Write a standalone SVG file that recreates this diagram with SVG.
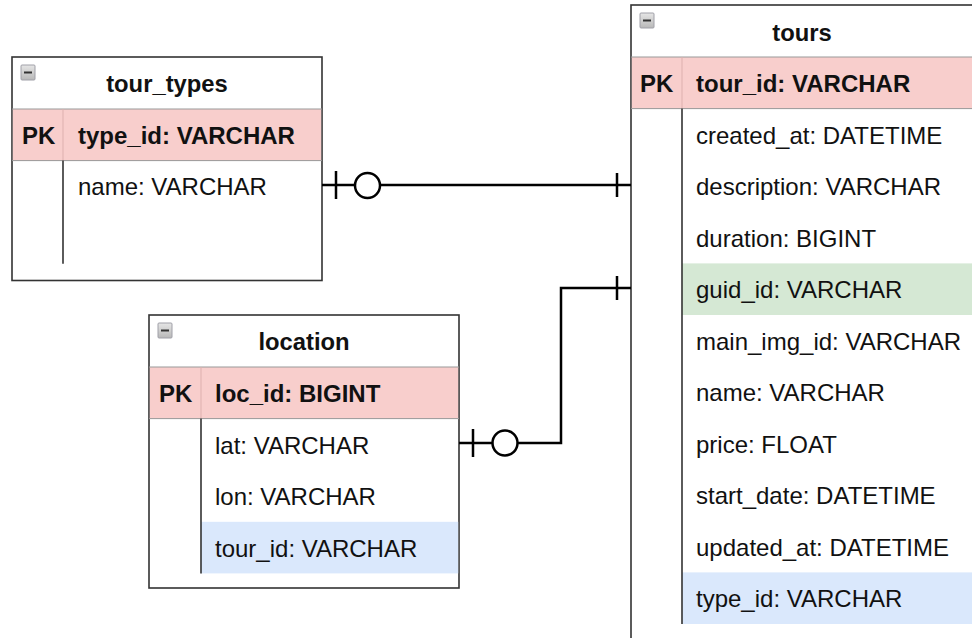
<svg xmlns="http://www.w3.org/2000/svg" width="972" height="638" viewBox="0 0 972 638">
<defs>
<linearGradient id="ig" x1="0" y1="0" x2="0" y2="1"><stop offset="0" stop-color="#e6e6e6"/><stop offset="1" stop-color="#b8b8b8"/></linearGradient>
<g id="icon"><rect x="0" y="0" width="14" height="15" rx="1" fill="url(#ig)" stroke="#a0a0a8" stroke-width="1"/><line x1="3" y1="7.5" x2="11" y2="7.5" stroke="#333" stroke-width="2"/></g>
</defs>
<style>
.box{fill:#fff;stroke:#333;stroke-width:1.6}
.pk{fill:#f8cecc}
.fk{fill:#dae8fc}
.uq{fill:#d5e8d4}
.sep{stroke:#999;stroke-width:1}
.pkdiv{stroke:#ddb0ae;stroke-width:1}
.div{stroke:#333;stroke-width:1.6}
text{font-family:"Liberation Sans",Arial,sans-serif;font-size:24px;fill:#111}
.t{font-weight:bold;text-anchor:middle;font-size:23.8px}
.b{font-weight:bold}
.c{fill:none;stroke:#000;stroke-width:2.5}
.o{fill:#fff;stroke:#000;stroke-width:2.5}
</style>
<g id="tour_types">
<rect class="box" x="12" y="57" width="310" height="223.5"/>
<rect class="pk" x="12.8" y="109" width="308.4" height="51.6"/>
<line class="sep" x1="12" y1="109" x2="322" y2="109"/>
<line class="sep" x1="12" y1="160.6" x2="322" y2="160.6"/>
<line class="pkdiv" x1="63" y1="109" x2="63" y2="160.6"/>
<line class="div" x1="63" y1="160.6" x2="63" y2="263.8"/>
<use href="#icon" x="21" y="65"/>
<text class="t" x="167" y="92">tour_types</text>
<text class="b" x="22" y="144">PK</text>
<text class="b" x="78" y="144">type_id: VARCHAR</text>
<text x="78" y="195">name: VARCHAR</text>
</g>
<g id="location">
<rect class="box" x="149" y="315" width="310" height="273"/>
<rect class="pk" x="149.8" y="367" width="308.4" height="51.6"/>
<rect class="fk" x="201" y="521.8" width="257.2" height="51.6"/>
<line class="sep" x1="149" y1="367" x2="459" y2="367"/>
<line class="sep" x1="149" y1="418.6" x2="459" y2="418.6"/>
<line class="pkdiv" x1="201" y1="367" x2="201" y2="418.6"/>
<line class="div" x1="201" y1="418.6" x2="201" y2="573.4"/>
<use href="#icon" x="158" y="323"/>
<text class="t" x="304" y="350">location</text>
<text class="b" x="159" y="402">PK</text>
<text class="b" x="215" y="402">loc_id: BIGINT</text>
<text x="215" y="453.5">lat: VARCHAR</text>
<text x="215" y="505">lon: VARCHAR</text>
<text x="215" y="556.5">tour_id: VARCHAR</text>
</g>
<g id="tours">
<rect class="box" x="631" y="5" width="342" height="640"/>
<rect class="pk" x="631.8" y="57" width="341" height="51.6"/>
<rect class="uq" x="682" y="263.4" width="291" height="51.6"/>
<rect class="fk" x="682" y="572.4" width="291" height="51.6"/>
<line class="sep" x1="631" y1="57" x2="973" y2="57"/>
<line class="sep" x1="631" y1="108.6" x2="973" y2="108.6"/>
<line class="pkdiv" x1="682" y1="57" x2="682" y2="108.6"/>
<line class="div" x1="682" y1="108.6" x2="682" y2="624"/>
<use href="#icon" x="640" y="13"/>
<text class="t" x="802" y="41">tours</text>
<text class="b" x="640" y="92">PK</text>
<text class="b" x="696" y="92">tour_id: VARCHAR</text>
<text x="696" y="143.5">created_at: DATETIME</text>
<text x="696" y="195">description: VARCHAR</text>
<text x="696" y="246.5">duration: BIGINT</text>
<text x="696" y="298">guid_id: VARCHAR</text>
<text x="696" y="349.5">main_img_id: VARCHAR</text>
<text x="696" y="401">name: VARCHAR</text>
<text x="696" y="452.5">price: FLOAT</text>
<text x="696" y="504">start_date: DATETIME</text>
<text x="696" y="555.5">updated_at: DATETIME</text>
<text x="696" y="607">type_id: VARCHAR</text>
</g>
<g id="connectors">
<path class="c" d="M322 185H631"/>
<path class="c" d="M336 171V199M617 173V197"/>
<circle class="o" cx="367.5" cy="185.5" r="12.5"/>
<path class="c" d="M459 443H561V288H631"/>
<path class="c" d="M473 429V457M617 276V300"/>
<circle class="o" cx="505" cy="443" r="12.5"/>
</g>
</svg>
